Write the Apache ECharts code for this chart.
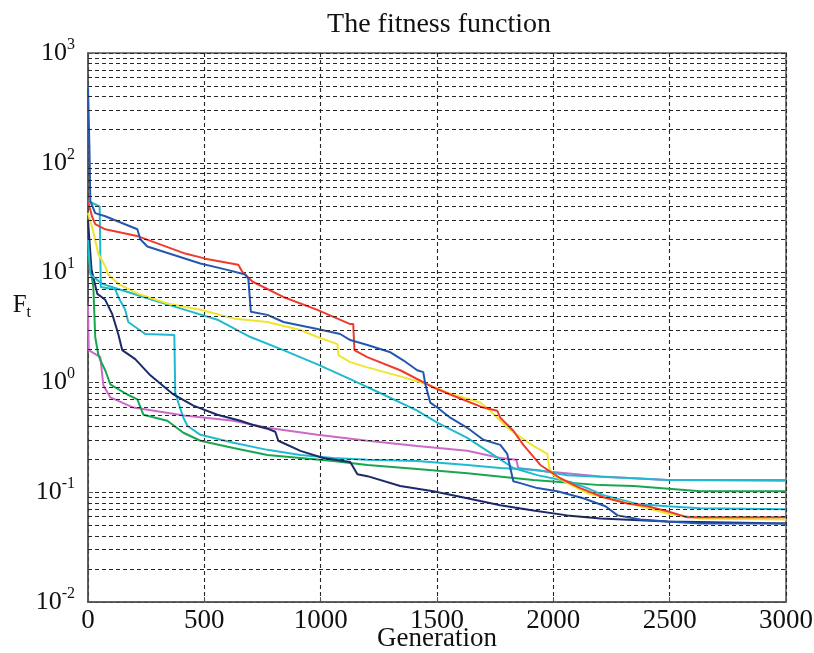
<!DOCTYPE html>
<html><head><meta charset="utf-8">
<script src="https://cdn.jsdelivr.net/npm/echarts@6/dist/echarts.min.js"></script>
<style>html,body{margin:0;padding:0;background:#fff}#c{width:814px;height:653px}</style>
</head><body><div id="c"></div>
<script>
const chartTitle = 'The fitness function';
const xAxisName = 'Generation';
const yAxisNameMain = 'F';
const yAxisNameSub = 't';
const xMin = 0, xMax = 3000, xStep = 500;
const yMin = 0.01, yMax = 1000;
const minorMultipliers = [2, 3, 4, 5, 6, 7, 8, 9];
const minorDecades = [0.01, 0.1, 1, 10, 100];

// [generation, fitness]
const redRun = [[0,45],[17,32.6],[31,27.6],[74,24.8],[216,21.4],[418,14.9],[504,13.4],[646,11.8],[663,10.2],[706,8.3],[839,6.0],[986,4.58],[1127,3.4],[1140,3.4],[1145,1.97],[1200,1.70],[1342,1.29],[1484,0.90],[1557,0.776],[1699,0.59],[1759,0.553],[1772,0.477],[1828,0.363],[1871,0.27],[1944,0.177],[2030,0.134],[2116,0.109],[2215,0.090],[2318,0.079],[2404,0.0744],[2490,0.067],[2576,0.059],[3000,0.059]];
const blueRun = [[0,480],[6,143],[10,44.8],[31,34.8],[74,32.6],[212,24.8],[225,20.1],[255,17.3],[332,15.3],[483,12.1],[590,10.7],[676,9.6],[689,8.8],[700,4.39],[771,4.12],[840,3.55],[986,3.06],[1084,2.76],[1127,2.43],[1201,2.19],[1300,1.88],[1355,1.59],[1415,1.29],[1441,1.24],[1450,0.96],[1471,0.655],[1501,0.59],[1557,0.477],[1630,0.386],[1699,0.30],[1772,0.27],[1802,0.223],[1815,0.166],[1828,0.126],[1858,0.121],[1931,0.109],[2017,0.102],[2129,0.088],[2224,0.0744],[2276,0.0615],[2374,0.0565],[2490,0.0542],[2632,0.052],[3000,0.052]];
const yellowRun = [[0,35],[20,24.8],[44,14.9],[74,11.4],[87,9.6],[130,7.9],[216,6.4],[345,5.2],[483,4.58],[633,3.79],[771,3.55],[913,3.0],[986,2.59],[1072,2.23],[1076,1.77],[1127,1.53],[1201,1.37],[1342,1.135],[1458,0.96],[1557,0.79],[1686,0.655],[1729,0.553],[1802,0.386],[1845,0.333],[1914,0.264],[1974,0.223],[1983,0.166],[2000,0.143],[2060,0.121],[2146,0.098],[2215,0.090],[2331,0.079],[2490,0.064],[2632,0.0577],[3000,0.0565]];
const cyanRunA = [[0,20],[10,9.6],[61,7.9],[130,7.1],[276,5.65],[418,4.58],[560,3.7],[698,2.59],[840,1.97],[986,1.46],[1127,1.07],[1269,0.776],[1415,0.553],[1501,0.43],[1630,0.313],[1729,0.228],[1828,0.166],[1931,0.143],[2073,0.124],[2146,0.109],[2215,0.094],[2361,0.078],[2490,0.0744],[2632,0.0713],[3000,0.070]];
const cyanRunB = [[0,45],[50,40],[55,7.4],[118,7.0],[130,6.0],[160,4.58],[173,3.55],[246,2.76],[371,2.70],[375,0.81],[388,0.655],[410,0.477],[427,0.403],[483,0.333],[625,0.282],[771,0.243],[913,0.218],[1054,0.205],[1201,0.197],[1415,0.192],[1630,0.177],[1772,0.166],[1931,0.159],[2060,0.143],[2345,0.134],[2490,0.129],[3000,0.129]];
const navyRun = [[0,30],[15,10.7],[40,6.4],[74,5.65],[104,4.2],[130,2.76],[147,1.97],[203,1.63],[268,1.16],[367,0.776],[453,0.615],[556,0.508],[655,0.448],[706,0.412],[771,0.379],[805,0.355],[818,0.294],[913,0.238],[1011,0.205],[1127,0.188],[1158,0.146],[1201,0.140],[1342,0.114],[1484,0.102],[1630,0.088],[1772,0.076],[1914,0.068],[2060,0.0615],[2202,0.0577],[2490,0.0542],[3000,0.052]];
const greenRun = [[0,15],[23,7.4],[31,2.59],[44,1.81],[53,1.59],[74,1.29],[96,0.96],[117,0.90],[169,0.776],[212,0.70],[238,0.508],[341,0.448],[410,0.348],[483,0.294],[625,0.253],[771,0.218],[1054,0.192],[1201,0.177],[1415,0.163],[1630,0.149],[1914,0.129],[2202,0.116],[2345,0.114],[2632,0.102],[3000,0.102]];
const magentaRun = [[0,5.0],[3,1.97],[53,1.70],[66,0.94],[96,0.73],[195,0.59],[413,0.50],[625,0.448],[771,0.386],[986,0.333],[1201,0.294],[1415,0.264],[1630,0.238],[1772,0.205],[1841,0.197],[1849,0.166],[1931,0.158],[2202,0.139],[2490,0.129],[3000,0.127]];

const runs = [
  { name: 'run 1', data: magentaRun, color: '#cc6ac8' },
  { name: 'run 2', data: greenRun, color: '#1aa550' },
  { name: 'run 3', data: cyanRunB, color: '#1fbad0' },
  { name: 'run 4', data: navyRun, color: '#1b2a6b' },
  { name: 'run 5', data: cyanRunA, color: '#1fbad0' },
  { name: 'run 6', data: yellowRun, color: '#f0e42c' },
  { name: 'run 7', data: redRun, color: '#f03a2e' },
  { name: 'run 8', data: blueRun, color: '#2457b0' }
];

const minorValues = [];
minorDecades.forEach(d => minorMultipliers.forEach(m => minorValues.push(+(d * m).toPrecision(3))));

const serif = 'Liberation Serif';
const gridDash = [4, 3];
const gridColor = '#262626';

const chart = echarts.init(document.getElementById('c'), null, { renderer: 'canvas' });
const series = [{
  type: 'line', data: [], z: 1, silent: true,
  markLine: {
    silent: true, animation: false, symbol: ['none', 'none'],
    label: { show: false },
    lineStyle: { type: gridDash, color: gridColor, width: 1.1 },
    data: minorValues.map(v => ({ yAxis: v }))
  }
}];
runs.forEach(r => series.push({
  type: 'line', name: r.name, data: r.data, showSymbol: false, symbol: 'none',
  z: 3, lineStyle: { width: 2, color: r.color }, itemStyle: { color: r.color }
}));

chart.setOption({
  animation: false,
  backgroundColor: '#fff',
  title: {
    text: chartTitle, left: 434, top: 6, textAlign: 'center',
    textStyle: { fontFamily: serif, fontSize: 28, fontWeight: 'normal', color: '#111' }
  },
  grid: { left: 88, right: 28, top: 53, bottom: 51, outerBoundsMode: 'none', containLabel: false, show: true, borderColor: '#555', borderWidth: 1.5, backgroundColor: 'transparent' },
  xAxis: {
    type: 'value', min: xMin, max: xMax, interval: xStep,
    name: xAxisName, nameLocation: 'middle', nameGap: 23, nameMoveOverlap: false,
    nameTextStyle: { fontFamily: serif, fontSize: 27, color: '#111' },
    axisLine: { show: true, lineStyle: { color: '#555', width: 1.5 } },
    axisTick: { show: true, inside: true, length: 5, lineStyle: { color: '#555' } },
    axisLabel: { margin: 5, fontFamily: serif, fontSize: 27, color: '#111', formatter: v => String(v) },
    splitLine: { show: true, lineStyle: { type: gridDash, color: gridColor, width: 1.1 } }
  },
  yAxis: {
    type: 'log', logBase: 10, min: yMin, max: yMax,
    name: '{f|' + yAxisNameMain + '}{t|' + yAxisNameSub + '}', nameLocation: 'middle', nameGap: 57, nameRotate: 0, nameMoveOverlap: false,
    nameTextStyle: {
      padding: [0, 0, 44, 0],
      rich: {
        f: { fontFamily: serif, fontSize: 25, color: '#111', lineHeight: 30 },
        t: { fontFamily: serif, fontSize: 16, color: '#111', lineHeight: 16, verticalAlign: 'bottom' }
      }
    },
    axisLine: { show: true, lineStyle: { color: '#555', width: 1.5 } },
    axisTick: { show: true, inside: true, length: 5, lineStyle: { color: '#555' } },
    axisLabel: {
      margin: 13,
      formatter: v => '{b|10}{s|' + Math.round(Math.log10(v)) + '}',
      rich: {
        b: { fontFamily: serif, fontSize: 26, color: '#111', lineHeight: 33 },
        s: { fontFamily: serif, fontSize: 16, color: '#111', lineHeight: 16, verticalAlign: 'top' }
      }
    },
    splitLine: { show: true, lineStyle: { type: gridDash, color: gridColor, width: 1.1 } }
  },
  series: series
});
</script></body></html>
